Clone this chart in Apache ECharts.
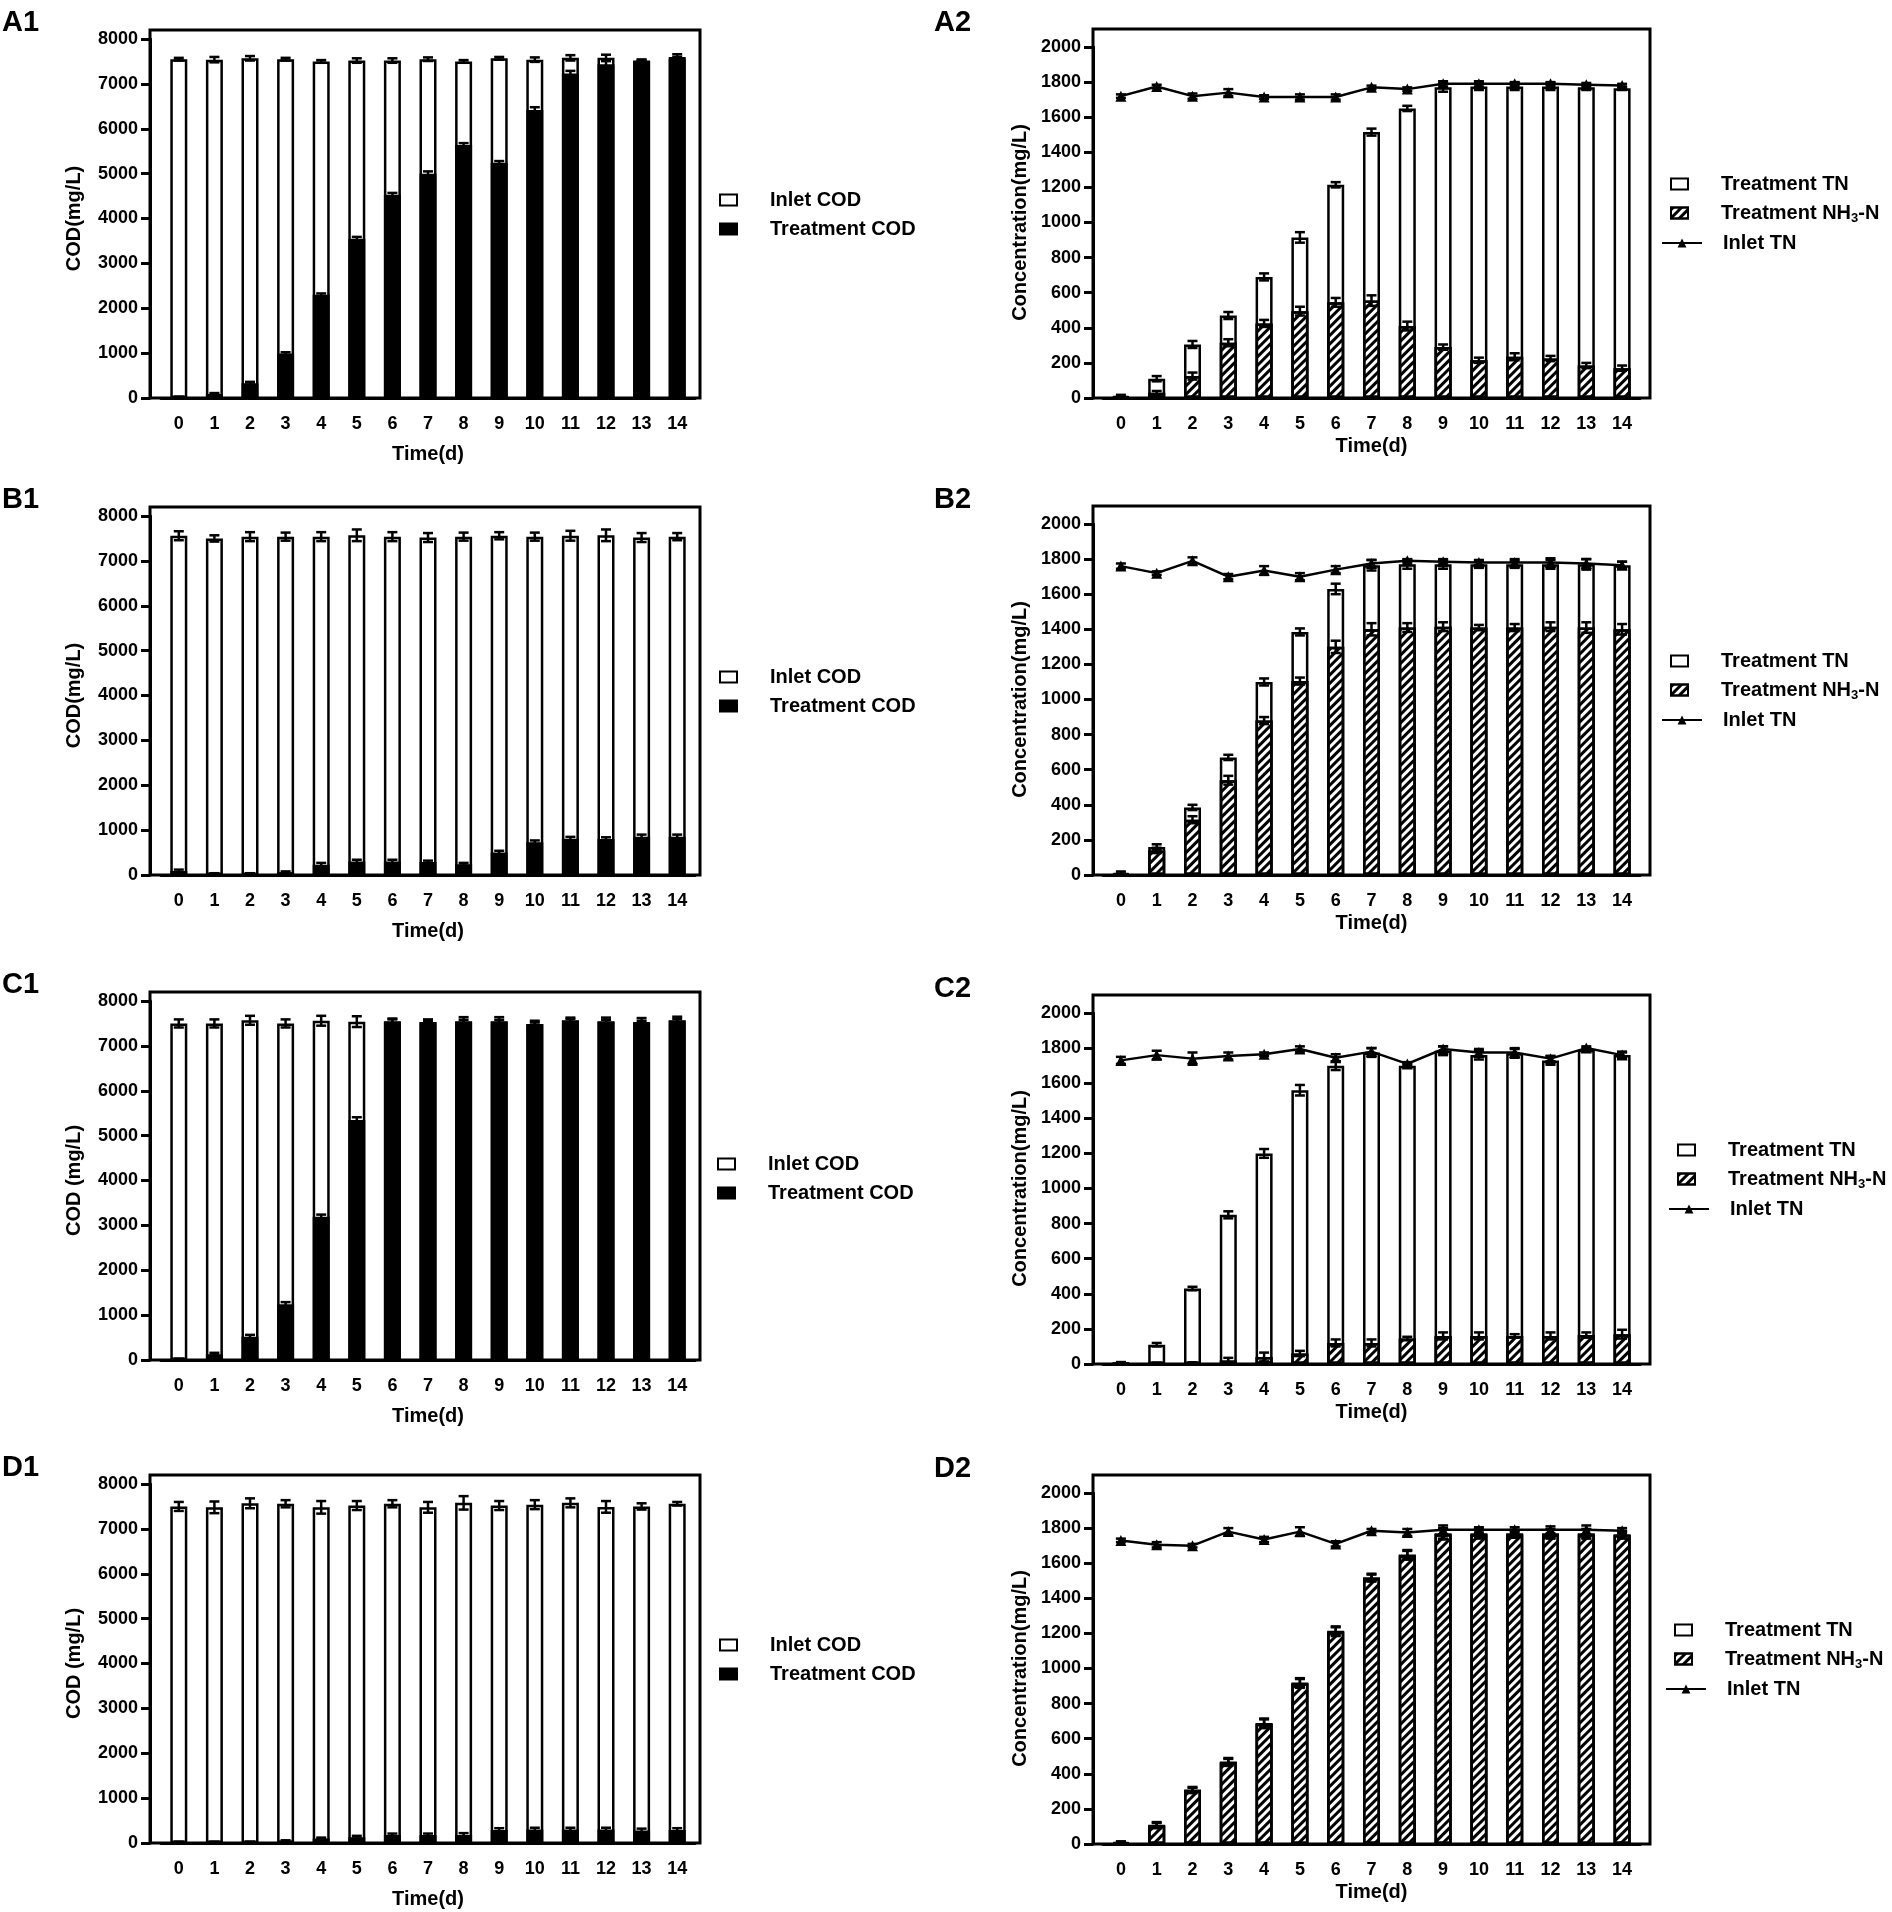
<!DOCTYPE html>
<html>
<head>
<meta charset="UTF-8">
<title>COD and TN panels</title>
<style>
  html, body { margin: 0; padding: 0; background: #fff; }
  #chart { width: 1892px; height: 1912px; }
</style>
</head>
<body>
<div id="chart"></div>
<script src="https://cdn.jsdelivr.net/npm/echarts@6/dist/echarts.min.js"></script>
<script>
var days = ['0', '1', '2', '3', '4', '5', '6', '7', '8', '9', '10', '11', '12', '13', '14'];

// COD panels (mg/L)
var a1Inlet = [7550, 7540, 7570, 7550, 7500, 7520, 7520, 7550, 7500, 7570, 7540, 7580, 7580, 7520, 7600];
var a1InletErr = [30, 60, 50, 30, 30, 50, 50, 40, 30, 30, 50, 60, 70, 20, 60];
var a1Treat = [20, 90, 330, 990, 2300, 3550, 4530, 5000, 5640, 5240, 6420, 7230, 7440, 7510, 7560];
var a1TreatErr = [10, 20, 30, 30, 30, 40, 40, 50, 40, 40, 60, 60, 70, 30, 40];

var b1Inlet = [7560, 7500, 7540, 7540, 7540, 7570, 7540, 7520, 7540, 7560, 7540, 7560, 7570, 7520, 7540];
var b1InletErr = [100, 70, 100, 90, 100, 130, 100, 100, 90, 80, 90, 110, 130, 100, 80];
var b1Treat = [90, 30, 30, 60, 230, 300, 300, 290, 240, 500, 730, 810, 800, 850, 850];
var b1TreatErr = [30, 10, 10, 20, 40, 40, 40, 30, 30, 40, 40, 40, 40, 50, 50];

var c1Inlet = [7500, 7500, 7570, 7500, 7560, 7540, 7550, 7530, 7550, 7550, 7490, 7570, 7550, 7530, 7570];
var c1InletErr = [90, 90, 100, 90, 110, 120, 60, 60, 90, 90, 70, 60, 80, 90, 80];
var c1Treat = [20, 130, 520, 1240, 3190, 5350, 7540, 7520, 7540, 7540, 7480, 7560, 7540, 7520, 7560];
var c1TreatErr = [10, 30, 40, 50, 50, 60, 50, 40, 40, 40, 40, 40, 40, 40, 40];

var d1Inlet = [7500, 7480, 7570, 7560, 7480, 7520, 7560, 7480, 7580, 7520, 7540, 7580, 7490, 7500, 7560];
var d1InletErr = [100, 130, 110, 80, 140, 100, 80, 120, 150, 100, 100, 100, 130, 70, 40];
var d1Treat = [20, 20, 20, 40, 100, 130, 180, 180, 180, 290, 300, 300, 300, 280, 290];
var d1TreatErr = [10, 10, 10, 20, 20, 30, 30, 30, 40, 40, 40, 40, 40, 40, 40];

// nitrogen panels (mg/L)
var a2TN = [10, 110, 305, 470, 690, 915, 1215, 1515, 1650, 1770, 1775, 1775, 1775, 1770, 1765];
var a2TNErr = [8, 15, 20, 20, 20, 30, 15, 20, 15, 25, 20, 20, 20, 15, 10];
var a2NH3 = [5, 30, 125, 315, 425, 495, 545, 555, 410, 290, 215, 235, 225, 185, 170];
var a2NH3Err = [3, 10, 20, 20, 20, 25, 25, 30, 25, 15, 15, 20, 15, 15, 15];
var a2Inlet = [1720, 1775, 1720, 1740, 1715, 1715, 1715, 1770, 1760, 1790, 1790, 1790, 1790, 1785, 1780];
var a2InletErr = [10, 10, 15, 20, 10, 15, 15, 10, 10, 15, 15, 10, 10, 10, 10];

var b2TN = [12, 160, 385, 670, 1100, 1385, 1630, 1765, 1770, 1770, 1770, 1770, 1770, 1770, 1765];
var b2TNErr = [8, 15, 15, 15, 20, 20, 30, 30, 25, 25, 20, 20, 25, 30, 20];
var b2NH3 = [5, 140, 315, 540, 880, 1105, 1300, 1400, 1410, 1415, 1410, 1410, 1415, 1410, 1400];
var b2NH3Err = [3, 15, 20, 25, 20, 20, 35, 35, 25, 25, 15, 20, 25, 30, 30];
var b2Inlet = [1760, 1720, 1790, 1700, 1735, 1700, 1740, 1775, 1790, 1785, 1780, 1780, 1780, 1775, 1765];
var b2InletErr = [15, 10, 20, 15, 25, 20, 20, 20, 10, 15, 15, 20, 25, 25, 20];

var c2TN = [6, 110, 430, 850, 1200, 1560, 1700, 1775, 1700, 1785, 1760, 1770, 1730, 1790, 1760];
var c2TNErr = [5, 10, 10, 20, 25, 30, 25, 25, 10, 25, 25, 25, 25, 10, 20];
var c2NH3 = [2, 5, 5, 20, 40, 60, 120, 120, 145, 160, 160, 160, 160, 165, 170];
var c2NH3Err = [2, 3, 5, 15, 25, 15, 20, 20, 10, 20, 20, 10, 20, 15, 25];
var c2Inlet = [1730, 1760, 1740, 1755, 1765, 1795, 1745, 1780, 1710, 1795, 1775, 1775, 1740, 1800, 1760];
var c2InletErr = [20, 25, 35, 20, 10, 15, 20, 20, 10, 15, 20, 25, 15, 10, 15];

var d2TN = [10, 110, 310, 470, 690, 920, 1215, 1520, 1650, 1770, 1770, 1770, 1770, 1770, 1765];
var d2TNErr = [5, 15, 15, 20, 25, 25, 25, 20, 25, 30, 25, 20, 25, 25, 20];
var d2NH3 = [8, 105, 305, 465, 685, 915, 1210, 1515, 1645, 1765, 1765, 1765, 1765, 1765, 1760];
var d2NH3Err = [5, 15, 15, 20, 25, 25, 25, 20, 25, 30, 25, 20, 25, 25, 20];
var d2Inlet = [1730, 1705, 1700, 1780, 1735, 1780, 1710, 1785, 1775, 1790, 1790, 1790, 1790, 1790, 1785];
var d2InletErr = [10, 15, 10, 20, 15, 25, 15, 10, 20, 25, 15, 15, 20, 25, 15];

var codTicks = { min: 0, max: 8000, interval: 1000 };
var tnTicks = { min: 0, max: 2000, interval: 200 };

var FONT = "'Liberation Sans', Arial, sans-serif";

var grids = [], xAxes = [], yAxes = [], series = [], legends = [], titles = [];

function errorBars(vals, errs, xi, yi) {
  return {
    type: 'custom', xAxisIndex: xi, yAxisIndex: yi, silent: true, z: 6,
    data: vals.map(function (v, i) { return [i, v, errs[i]]; }),
    encode: { x: 0, y: 1 },
    renderItem: function (params, api) {
      var x = api.value(0), v = api.value(1), e = api.value(2);
      var lo = api.coord([x, Math.max(v - e, 0)]);
      var hi = api.coord([x, v + e]);
      var cw = 5, st = { stroke: '#000', lineWidth: 2.5 };
      return {
        type: 'group', children: [
          { type: 'line', shape: { x1: hi[0], y1: hi[1], x2: lo[0], y2: lo[1] }, style: st },
          { type: 'line', shape: { x1: hi[0] - cw, y1: hi[1], x2: hi[0] + cw, y2: hi[1] }, style: st },
          { type: 'line', shape: { x1: lo[0] - cw, y1: lo[1], x2: lo[0] + cw, y2: lo[1] }, style: st }
        ]
      };
    }
  };
}

// frame box plus an inner grid that carries the axes
function addAxes(frame, inner, ticks, yName, yGap, xGap) {
  grids.push({ left: frame.left, top: frame.top, width: frame.width, height: frame.height,
    show: true, borderColor: '#000', borderWidth: 3, backgroundColor: 'transparent' });
  xAxes.push({ gridIndex: grids.length - 1, type: 'value', show: false });
  yAxes.push({ gridIndex: grids.length - 1, type: 'value', show: false });

  grids.push({ left: inner.left, top: inner.top, width: inner.width, height: inner.height });
  var gi = grids.length - 1;
  xAxes.push({
    gridIndex: gi, type: 'category', data: days,
    axisLine: { lineStyle: { color: '#000', width: 3 } },
    axisTick: { alignWithLabel: true, length: 7, lineStyle: { color: '#000', width: 3 } },
    axisLabel: { margin: 17, fontSize: 18, fontWeight: 'bold', color: '#000', fontFamily: FONT, interval: 0 },
    name: 'Time(d)', nameLocation: 'middle', nameGap: xGap,
    nameTextStyle: { fontSize: 20, fontWeight: 'bold', color: '#000', fontFamily: FONT }
  });
  yAxes.push({
    gridIndex: gi, type: 'value', min: ticks.min, max: ticks.max, interval: ticks.interval,
    offset: inner.left - frame.left,
    axisLine: { show: true, lineStyle: { color: '#000', width: 3 } },
    axisTick: { show: true, length: 9, lineStyle: { color: '#000', width: 3 } },
    axisLabel: { margin: 12, fontSize: 18, fontWeight: 'bold', color: '#000', fontFamily: FONT,
      formatter: function (v) { return String(v); } },
    splitLine: { show: false },
    name: yName, nameLocation: 'middle', nameGap: yGap,
    nameTextStyle: { fontSize: 20, fontWeight: 'bold', color: '#000', fontFamily: FONT }
  });
  return xAxes.length - 1;
}

var legendText = {
  fontSize: 20, fontWeight: 'bold', color: '#000', fontFamily: FONT,
  rich: {
    t: { fontSize: 20, fontWeight: 'bold', color: '#000', fontFamily: FONT },
    s: { fontSize: 13, fontWeight: 'bold', color: '#000', fontFamily: FONT, padding: [10, 0, 0, 0] }
  }
};

function legendFormat(name) {
  if (name === 'Treatment NH3-N') return '{t|Treatment NH}{s|3}{t|-N}';
  return '{t|' + name + '}';
}

function codPanel(label, dy, inlet, inletErr, treat, treatErr, yName, legDy) {
  var ai = addAxes(
    { left: 150, top: 30 + dy, width: 550, height: 368 },
    { left: 161, top: 39 + dy, width: 534, height: 359 },
    codTicks, yName, 66, 46);
  series.push({
    type: 'bar', name: 'Inlet COD', xAxisIndex: ai, yAxisIndex: ai, data: inlet,
    barWidth: 17, barGap: '-100%',
    itemStyle: { color: '#fff', borderColor: '#000', borderWidth: 2.5 }
  });
  series.push({
    type: 'bar', name: 'Treatment COD', xAxisIndex: ai, yAxisIndex: ai, data: treat,
    barWidth: 17, barGap: '-100%',
    itemStyle: { color: '#000', borderColor: '#000', borderWidth: 2.5 }
  });
  series.push(errorBars(inlet, inletErr, ai, ai));
  series.push(errorBars(treat, treatErr, ai, ai));
  legends.push({
    orient: 'vertical', left: 714 + legDy.x, top: 185 + dy + legDy.y, itemWidth: 17, itemHeight: 11, itemGap: 9,
    icon: 'rect', selectedMode: false, data: ['Inlet COD', 'Treatment COD'],
    formatter: legendFormat, textStyle: Object.assign({ padding: [0, 0, 0, 28] }, legendText)
  });
  titles.push({ text: label, left: 2, top: 8 + dy, padding: 0,
    textStyle: { fontSize: 29, fontWeight: 'bold', color: '#000', fontFamily: FONT } });
}

var hatch = { symbol: 'rect', symbolSize: 1, dashArrayX: [1, 0], dashArrayY: [2.5, 3], rotation: -Math.PI / 4, color: '#000' };

function tnPanel(label, dy, tn, tnErr, nh3, nh3Err, inlet, inletErr, legDx) {
  var ai = addAxes(
    { left: 1093, top: 29 + dy, width: 557, height: 369 },
    { left: 1103, top: 47 + dy, width: 537, height: 351 },
    tnTicks, 'Concentration(mg/L)', 63, 38);
  series.push({
    type: 'bar', name: 'Treatment TN', xAxisIndex: ai, yAxisIndex: ai, data: tn,
    barWidth: 17, barGap: '-100%',
    itemStyle: { color: '#fff', borderColor: '#000', borderWidth: 2.5 }
  });
  series.push({
    type: 'bar', name: 'Treatment NH3-N', xAxisIndex: ai, yAxisIndex: ai, data: nh3,
    barWidth: 17, barGap: '-100%',
    itemStyle: { color: '#fff', borderColor: '#000', borderWidth: 2.5, decal: hatch }
  });
  series.push({
    type: 'line', name: 'Inlet TN', xAxisIndex: ai, yAxisIndex: ai, data: inlet, z: 5,
    symbol: 'triangle', symbolSize: 11,
    lineStyle: { color: '#000', width: 2.5 }, itemStyle: { color: '#000' }
  });
  series.push(errorBars(tn, tnErr, ai, ai));
  series.push(errorBars(nh3, nh3Err, ai, ai));
  series.push(errorBars(inlet, inletErr, ai, ai));
  legends.push({
    orient: 'vertical', left: 1665 + legDx, top: 169 + dy, itemWidth: 17, itemHeight: 11, itemGap: 9,
    icon: 'rect', selectedMode: false, data: ['Treatment TN', 'Treatment NH3-N'],
    formatter: legendFormat, textStyle: Object.assign({ padding: [0, 0, 0, 28] }, legendText)
  });
  legends.push({
    orient: 'vertical', left: 1656 + legDx, top: 228 + dy, itemWidth: 40, itemHeight: 11,
    selectedMode: false, data: ['Inlet TN'],
    formatter: legendFormat, textStyle: Object.assign({ padding: [0, 0, 0, 16] }, legendText)
  });
  titles.push({ text: label, left: 934, top: 8 + dy, padding: 0,
    textStyle: { fontSize: 29, fontWeight: 'bold', color: '#000', fontFamily: FONT } });
}

codPanel('A1', 0, a1Inlet, a1InletErr, a1Treat, a1TreatErr, 'COD(mg/L)', { x: 0, y: 0 });
tnPanel('A2', 0, a2TN, a2TNErr, a2NH3, a2NH3Err, a2Inlet, a2InletErr, 0);
codPanel('B1', 477, b1Inlet, b1InletErr, b1Treat, b1TreatErr, 'COD(mg/L)', { x: 0, y: 0 });
tnPanel('B2', 477, b2TN, b2TNErr, b2NH3, b2NH3Err, b2Inlet, b2InletErr, 0);
codPanel('C1', 962, c1Inlet, c1InletErr, c1Treat, c1TreatErr, 'COD (mg/L)', { x: -2, y: 2 });
tnPanel('C2', 966, c2TN, c2TNErr, c2NH3, c2NH3Err, c2Inlet, c2InletErr, 7);
codPanel('D1', 1445, d1Inlet, d1InletErr, d1Treat, d1TreatErr, 'COD (mg/L)', { x: 0, y: 0 });
tnPanel('D2', 1446, d2TN, d2TNErr, d2NH3, d2NH3Err, d2Inlet, d2InletErr, 4);

var chart = echarts.init(document.getElementById('chart'));
chart.setOption({
  animation: false,
  backgroundColor: '#fff',
  textStyle: { fontFamily: FONT },
  title: titles,
  grid: grids,
  xAxis: xAxes,
  yAxis: yAxes,
  legend: legends,
  series: series
});
</script>
</body>
</html>
